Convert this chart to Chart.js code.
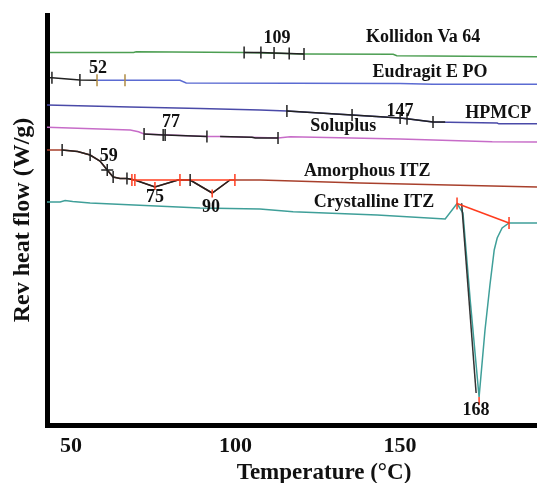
<!DOCTYPE html>
<html>
<head>
<meta charset="utf-8">
<script src="https://cdn.jsdelivr.net/npm/chart.js@4.4.1/dist/chart.umd.min.js"></script>
<style>
  html, body { margin: 0; padding: 0; background: #fff; }
  #wrap { width: 537px; height: 483px; }
</style>
</head>
<body>
<div id="wrap"><canvas id="dsc-chart"></canvas></div>
<script>
// [temperature (°C), rev heat flow (offset units)]
const kollidon = [[43.6, 37.25], [69.0, 37.25], [69.8, 37.33], [102.6, 37.25], [120.8, 37.1], [147.9, 37.07], [149.0, 36.93], [191.6, 36.83]];
const kollidonSeg = [[102.6, 37.25], [107.7, 37.25], [111.7, 37.2], [116.3, 37.15], [120.8, 37.1]];

const eudragit = [[57.9, 34.47], [83.1, 34.47], [85.0, 34.2], [150.0, 34.15], [160.0, 34.08], [191.6, 34.07]];
const eudragitSeg = [[43.6, 34.73], [44.2, 34.72], [52.7, 34.5], [57.9, 34.47]];

const hpmcp = [[42.7, 32.0], [67.9, 31.8], [89.2, 31.65], [107.4, 31.5], [115.6, 31.4], [135.4, 31.0], [150.0, 30.7], [152.1, 30.62], [160.0, 30.3], [179.5, 30.2], [180.0, 30.12], [191.6, 30.12]];
const hpmcpSeg = [[115.6, 31.4], [135.4, 31.0], [150.0, 30.7], [152.1, 30.62], [160.0, 30.3], [163.7, 30.3]];

const soluplus = [[42.7, 29.77], [68.0, 29.5], [70.5, 29.33], [72.2, 29.1], [91.3, 28.85], [95.3, 28.85], [112.9, 28.7], [116.6, 28.83], [150.0, 28.6], [178.0, 28.33], [191.6, 28.3]];
const soluplusSeg1 = [[72.2, 29.1], [78.0, 29.0], [78.6, 29.0], [91.3, 28.85]];
const soluplusSeg2 = [[95.3, 28.85], [105.0, 28.78], [106.0, 28.7], [112.9, 28.7]];

const amorphous = [[42.7, 27.5], [47.3, 27.5], [52.0, 27.35], [55.8, 27.0], [58.8, 26.4], [61.0, 25.5], [62.8, 24.8], [64.9, 24.65], [67.0, 24.65], [69.4, 24.5], [75.5, 23.8], [82.5, 24.5], [86.2, 24.5], [92.9, 23.2], [98.3, 24.5], [107.4, 24.5], [137.8, 24.2], [191.6, 23.8]];
const amorphousSeg = [[47.3, 27.5], [52.0, 27.35], [55.8, 27.0], [58.8, 26.4], [61.0, 25.5], [62.8, 24.8], [64.9, 24.65], [67.0, 24.65], [69.4, 24.5], [75.5, 23.8], [82.5, 24.5], [86.2, 24.5], [92.9, 23.2], [98.3, 24.5]];
const amorphousBase = [[68.5, 24.5], [99.8, 24.5]];

const crystalline = [[42.7, 22.3], [46.7, 22.3], [48.2, 22.45], [50.5, 22.35], [55.8, 22.2], [89.2, 21.7], [107.4, 21.6], [117.5, 21.33], [143.0, 21.0], [163.7, 20.6], [167.3, 22.15], [169.1, 21.2], [171.3, 12.5], [174.0, 2.8], [175.8, 9.5], [177.3, 14.0], [178.6, 17.5], [179.5, 18.7], [181.0, 19.7], [183.1, 20.2], [191.6, 20.2]];
const crystallineSeg = [[168.7, 22.17], [173.1, 3.2]];
const crystallineBase = [[167.3, 22.15], [183.1, 20.2]];

// little vertical analysis marks
const blackTicks = [[102.6, 37.25], [107.7, 37.25], [111.7, 37.2], [116.3, 37.15], [120.8, 37.1],
  [44.2, 34.72], [52.7, 34.5],
  [115.6, 31.4], [135.4, 31.0], [150.0, 30.7], [152.1, 30.62], [160.0, 30.3],
  [72.2, 29.1], [78.0, 29.0], [78.6, 29.0], [91.3, 28.85], [112.9, 28.7],
  [47.3, 27.5], [55.8, 27.0], [62.8, 24.8], [67.0, 24.65], [86.2, 24.5]];
const tanTicks = [[57.9, 34.47], [66.4, 34.47]];
const redTicks = [[68.5, 24.5], [69.4, 24.5], [83.1, 24.5], [99.8, 24.5], [167.3, 22.15], [183.1, 20.2]];
const redDrops = [[75.5, 23.9], [92.9, 23.15], [174.0, 2.4]];
const crossMarks = [[61.0, 25.5]];

const xTicks = [50, 100, 150];

const curveNames = ['Kollidon Va 64', 'Eudragit E PO', 'HPMCP', 'Soluplus', 'Amorphous ITZ', 'Crystalline ITZ'];
const curveNameAt = [[157.0, 38.8], [159.1, 35.25], [179.8, 31.2], [132.7, 29.85], [140.0, 25.4], [142.1, 22.3]];
const peakText = ['109', '52', '147', '77', '59', '75', '90', '168'];
const peakAt = [[112.6, 38.7], [58.2, 35.7], [150.0, 31.4], [80.4, 30.3], [61.5, 26.9], [75.5, 22.8], [92.5, 21.8], [173.1, 1.5]];

const SERIF = '"Liberation Serif", "Times New Roman", serif';
const toXY = pts => pts.map(p => ({ x: p[0], y: p[1] }));

function curve(pts, color, order) {
  return { data: toXY(pts), borderColor: color, borderWidth: 1.5, pointRadius: 0, showLine: true, tension: 0, order: order };
}
function marks(pts, color, radius, style) {
  return { data: toXY(pts), showLine: false, pointStyle: style || 'line', rotation: style ? 0 : 90,
    pointRadius: radius, borderColor: color, backgroundColor: color, pointBorderWidth: 1.5, order: 0 };
}

const labelPlugin = {
  id: 'curveLabels',
  afterDatasetsDraw(chart) {
    const { ctx, scales: { x, y } } = chart;
    ctx.save();
    ctx.fillStyle = '#111';
    ctx.textAlign = 'center';
    ctx.textBaseline = 'middle';
    ctx.font = 'bold 18px ' + SERIF;
    curveNames.forEach((t, i) => ctx.fillText(t, x.getPixelForValue(curveNameAt[i][0]), y.getPixelForValue(curveNameAt[i][1])));
    peakText.forEach((t, i) => ctx.fillText(t, x.getPixelForValue(peakAt[i][0]), y.getPixelForValue(peakAt[i][1])));
    // x axis title sits right of centre in the original figure
    ctx.font = 'bold 23px ' + SERIF;
    ctx.fillText('Temperature (°C)', 324, x.bottom - 10);
    ctx.restore();
  }
};

new Chart(document.getElementById('dsc-chart'), {
  type: 'scatter',
  data: {
    datasets: [
      curve(kollidon, '#4c9e52', 3),
      curve(eudragit, '#5b6bd2', 3),
      curve(hpmcp, '#4a4aa8', 3),
      curve(soluplus, '#c76cc8', 3),
      curve(amorphous, '#a8402c', 3),
      curve(crystalline, '#3f9f99', 3),
      curve(kollidonSeg, '#222', 2),
      curve(eudragitSeg, '#222', 2),
      curve(hpmcpSeg, '#222', 2),
      curve(soluplusSeg1, '#222', 2),
      curve(soluplusSeg2, '#222', 2),
      curve(amorphousSeg, '#222', 2),
      curve(crystallineSeg, '#333', 2),
      curve(amorphousBase, '#ff3c1e', 1),
      curve(crystallineBase, '#ff3c1e', 1),
      marks(blackTicks, '#222', 6),
      marks(tanTicks, '#b08c44', 6),
      marks(redTicks, '#ff3c1e', 6),
      marks(redDrops, '#ff3c1e', 4),
      marks(crossMarks, '#222', 6, 'cross')
    ]
  },
  options: {
    responsive: true,
    maintainAspectRatio: false,
    animation: false,
    devicePixelRatio: 1,
    layout: { autoPadding: false, padding: { top: 15, right: 0, bottom: 0, left: 0 } },
    plugins: { legend: { display: false }, tooltip: { enabled: false } },
    scales: {
      x: {
        type: 'linear',
        min: 42.7,
        max: 191.6,
        grid: { display: false },
        border: { display: true, width: 5, color: '#000' },
        afterBuildTicks: scale => { scale.ticks = xTicks.map(v => ({ value: v })); },
        afterFit: scale => { scale.height = 58; scale.paddingLeft = 0; scale.paddingRight = 0; },
        ticks: { color: '#111', padding: 0, font: { family: SERIF, size: 22, weight: 'bold' } },
        title: { display: false }
      },
      y: {
        type: 'linear',
        min: 0,
        max: 41,
        grid: { display: false },
        border: { display: true, width: 5, color: '#000' },
        ticks: { display: false },
        afterFit: scale => { scale.width = 47; scale.paddingTop = 0; scale.paddingBottom = 0; },
        title: {
          display: true,
          text: 'Rev heat flow (W/g)',
          color: '#111',
          padding: { top: 11, bottom: 0 },
          font: { family: SERIF, size: 24, weight: 'bold', lineHeight: 1 }
        }
      }
    }
  },
  plugins: [labelPlugin]
});
</script>
</body>
</html>
